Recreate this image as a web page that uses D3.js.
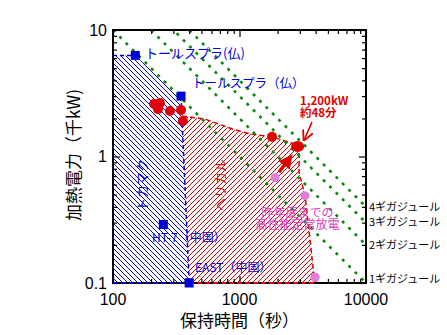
<!DOCTYPE html>
<html lang="ja">
<head>
<meta charset="utf-8">
<title>保持時間と加熱電力</title>
<script src="https://d3js.org/d3.v7.min.js"></script>
<style>
  body { margin: 0; background: #fff; }
  .jp { font-family: "Noto Sans CJK JP", sans-serif; }
  .num { font-family: "Liberation Sans", Arial, sans-serif; }
</style>
<script>
  // data (time in s, power in 千kW)
  const xTicks = [100, 1000, 10000];
  const yTicks = [0.1, 1, 10];
  const energyGJ = [1, 2, 3, 4];

  const tokamakPts = [[150, 6.3], [345, 3.0], [250, 0.29], [400, 0.1]];
  const lhdPts = [[211, 2.6], [223, 2.5], [235, 2.65], [227, 2.37], [282, 2.29], [345, 2.33], [357, 1.91], [1807, 1.43]];
  const lhdRecord = [[2880, 1.2]];
  const pastPts = [[1909, 0.68], [3295, 0.49], [3954, 0.111]];

  const tokamakArea = [[100, 6.3], [150, 6.3], [345, 3.0], [400, 0.1], [100, 0.1]];
  const helicalArea = [[352, 2.09], [530, 1.98], [880, 1.65], [1200, 1.51], [1800, 1.43], [2700, 1.26],
                       [2960, 1.2], [2960, 0.74], [3300, 0.49], [3900, 0.11], [3900, 0.1], [400, 0.1]];
</script>
</head>
<body>
<div id="chart"></div>
<script>
  const width = 447, height = 335;
  const pLeft = 113, pRight = 366, pTop = 30, pBottom = 283;

  const svg = d3.select("#chart").append("svg")
      .attr("width", width).attr("height", height);

  const x = d3.scaleLog().domain([100, 10000]).range([pLeft, pRight]);
  const y = d3.scaleLog().domain([0.1, 10]).range([pBottom, pTop]);

  const blue = "#0000d8", red = "#e00000", green = "#0a8a0a", pink = "#e080d8", pinkText = "#e040c0";

  const defs = svg.append("defs");
  defs.append("clipPath").attr("id", "plot")
      .append("rect").attr("x", pLeft).attr("y", pTop).attr("width", pRight - pLeft).attr("height", pBottom - pTop);

  // pixel hatches: one pixel per row, 5px apart
  function hatch(id, color, back) {
    const p = defs.append("pattern").attr("id", id)
        .attr("patternUnits", "userSpaceOnUse").attr("width", 5).attr("height", 5);
    d3.range(5).forEach(i => {
      p.append("rect").attr("x", back ? i : 4 - i).attr("y", i)
          .attr("width", 1).attr("height", 1).attr("fill", color)
          .attr("shape-rendering", "crispEdges");
    });
  }
  hatch("hBlue", blue, true);
  hatch("hRed", red, false);

  const line = d3.line().x(d => x(d[0])).y(d => y(d[1]));
  const g = svg.append("g").attr("clip-path", "url(#plot)");

  // hatched regions
  g.append("path").attr("d", line(tokamakArea) + "Z").attr("fill", "url(#hBlue)");
  g.append("path").attr("d", line(helicalArea) + "Z").attr("fill", "url(#hRed)");

  // region outlines
  g.append("path").attr("d", line(helicalArea))
      .attr("fill", "none").attr("stroke", red).attr("stroke-width", 1.5).attr("stroke-dasharray", "5,3");
  g.append("path").attr("d", line([[100, 6.3], [150, 6.3]]))
      .attr("fill", "none").attr("stroke", blue).attr("stroke-width", 1.5).attr("stroke-dasharray", "4,3");
  g.append("path").attr("d", line([[345, 3.0], [400, 0.1], [100, 0.1]]))
      .attr("fill", "none").attr("stroke", blue).attr("stroke-width", 1.5).attr("stroke-dasharray", "4,3");

  // energy lines
  energyGJ.forEach(e => {
    g.append("path").attr("d", line([[100, e * 1000 / 100], [10000, e * 1000 / 10000]]))
        .attr("fill", "none").attr("stroke", green).attr("stroke-width", 2.6)
        .attr("stroke-dasharray", "3,6");
  });

  // points
  g.selectAll("rect.tok").data(tokamakPts).enter().append("rect")
      .attr("x", d => x(d[0]) - 4.5).attr("y", d => y(d[1]) - 4.5)
      .attr("width", 9).attr("height", 9).attr("fill", blue);
  g.selectAll("circle.past").data(pastPts).enter().append("circle")
      .attr("cx", d => x(d[0])).attr("cy", d => y(d[1])).attr("r", 4.5).attr("fill", pink);
  g.selectAll("circle.lhd").data(lhdPts).enter().append("circle")
      .attr("cx", d => x(d[0])).attr("cy", d => y(d[1])).attr("r", 5).attr("fill", red);
  g.selectAll("ellipse.rec").data(lhdRecord).enter().append("ellipse")
      .attr("cx", d => x(d[0])).attr("cy", d => y(d[1])).attr("rx", 6.5).attr("ry", 5.5).attr("fill", red);

  // arrows
  defs.append("marker").attr("id", "head").attr("viewBox", "0 0 10 10")
      .attr("refX", 8).attr("refY", 5).attr("markerWidth", 4).attr("markerHeight", 4)
      .attr("orient", "auto")
      .append("path").attr("d", "M0,0 L10,5 L0,10 Z").attr("fill", red);
  svg.append("path").attr("d", line([[2050, 0.75], [2550, 1.0]]))
      .attr("stroke", red).attr("stroke-width", 3.5).attr("marker-end", "url(#head)");
  defs.append("marker").attr("id", "head2").attr("viewBox", "0 0 10 10")
      .attr("refX", 9).attr("refY", 5).attr("markerWidth", 7).attr("markerHeight", 7)
      .attr("orient", "auto")
      .append("path").attr("d", "M0,0 L10,5 L0,10").attr("fill", "none").attr("stroke", red).attr("stroke-width", 1.6);
  svg.append("path").attr("d", line([[3740, 1.87], [3240, 1.35]]))
      .attr("stroke", red).attr("stroke-width", 1.6).attr("marker-end", "url(#head2)");

  // frame and ticks
  const minorX = [], minorY = [];
  [100, 1000].forEach(b => { for (let i = 2; i <= 9; i++) minorX.push(b * i); });
  [0.1, 1].forEach(b => { for (let i = 2; i <= 9; i++) minorY.push(b * i); });

  function axis(gen, scale, vals, size, tr) {
    svg.append("g").attr("transform", tr)
        .call(gen(scale).tickValues(vals).tickSize(-size).tickFormat(""))
        .call(s => s.select(".domain").remove())
        .selectAll("line").attr("stroke", "#000").attr("stroke-width", 1.2);
  }
  axis(d3.axisBottom, x, xTicks, 7, `translate(0,${pBottom})`);
  axis(d3.axisBottom, x, minorX, 4, `translate(0,${pBottom})`);
  axis(d3.axisTop, x, xTicks, 7, `translate(0,${pTop})`);
  axis(d3.axisTop, x, minorX, 4, `translate(0,${pTop})`);
  axis(d3.axisLeft, y, yTicks, 7, `translate(${pLeft},0)`);
  axis(d3.axisLeft, y, minorY, 4, `translate(${pLeft},0)`);
  axis(d3.axisRight, y, yTicks, 7, `translate(${pRight},0)`);
  axis(d3.axisRight, y, minorY, 4, `translate(${pRight},0)`);

  svg.append("rect").attr("x", pLeft).attr("y", pTop).attr("width", pRight - pLeft).attr("height", pBottom - pTop)
      .attr("fill", "none").attr("stroke", "#000").attr("stroke-width", 2);

  // redraw dashed bottom boundaries over the frame
  svg.append("path").attr("d", line([[100, 0.1], [400, 0.1]]))
      .attr("fill", "none").attr("stroke", blue).attr("stroke-width", 2).attr("stroke-dasharray", "5,3");
  svg.append("path").attr("d", line([[400, 0.1], [3900, 0.1]]))
      .attr("fill", "none").attr("stroke", red).attr("stroke-width", 2).attr("stroke-dasharray", "5,3");
  svg.selectAll("rect.east").data(tokamakPts.filter(d => d[1] === 0.1)).enter().append("rect")
      .attr("x", d => x(d[0]) - 4.5).attr("y", d => y(d[1]) - 4.5)
      .attr("width", 9).attr("height", 9).attr("fill", blue);
  svg.selectAll("circle.east").data(pastPts.filter(d => d[1] < 0.12)).enter().append("circle")
      .attr("cx", d => x(d[0])).attr("cy", d => y(d[1])).attr("r", 4.5).attr("fill", pink);

  // tick labels
  svg.selectAll("text.xl").data(xTicks).enter().append("text").attr("class", "num")
      .attr("x", d => x(d)).attr("y", 305).attr("text-anchor", "middle")
      .attr("font-size", 16).text(d => d);
  svg.selectAll("text.yl").data(yTicks).enter().append("text").attr("class", "num")
      .attr("x", pLeft - 6).attr("y", d => y(d) + 5.5).attr("text-anchor", "end")
      .attr("font-size", 16).text(d => d);

  // axis titles
  svg.append("text").attr("class", "jp").attr("x", (pLeft + pRight) / 2).attr("y", 327)
      .attr("text-anchor", "middle").attr("font-size", 17).text("保持時間（秒）");
  svg.append("text").attr("class", "jp").attr("transform", "translate(80,155) rotate(-90)")
      .attr("text-anchor", "middle").attr("font-size", 17).text("加熱電力（千kW)");

  // annotations
  function label(t, p, str, color, size, anchor, weight) {
    return svg.append("text").attr("class", "jp")
        .attr("x", x(t)).attr("y", y(p)).attr("dy", "0.35em")
        .attr("text-anchor", anchor || "start").attr("font-size", size)
        .attr("font-weight", weight || "normal").attr("fill", color).text(str);
  }
  function label2(t, p, lines, gap, color, size, anchor, weight) {
    const txt = svg.append("text").attr("class", "jp")
        .attr("x", x(t)).attr("y", y(p)).attr("dy", "0.35em")
        .attr("text-anchor", anchor).attr("font-size", size)
        .attr("font-weight", weight).attr("fill", color);
    lines.forEach((s, i) => {
      txt.append("tspan").attr("x", x(t)).attr("dy", i === 0 ? "0.35em" : gap).text(s);
    });
  }
  label(179, 6.58, "トールスプラ(仏)", blue, 13);
  label(421, 3.74, "トールスプラ（仏）", blue, 12.5);
  label(203, 0.227, "HT-7（中国）", blue, 12);
  label(445, 0.1315, "EAST（中国）", blue, 12);
  label2(2880, 0.36, ["昨年度までの", "高性能定常放電"], 12.5, pinkText, 12, "middle", "normal");
  label2(3008, 2.74, ["1,200kW", "約48分"], 12, red, 11.5, "start", "bold");

  svg.append("text").attr("class", "jp")
      .attr("transform", `translate(${x(170)},${y(0.596)}) rotate(-90)`)
      .attr("text-anchor", "middle").attr("dy", "0.35em")
      .attr("font-size", 13).attr("fill", blue).text("トカマク");
  svg.append("text").attr("class", "jp")
      .attr("transform", `translate(${x(701)},${y(0.596)}) rotate(-90)`)
      .attr("text-anchor", "middle").attr("dy", "0.35em")
      .attr("font-size", 13).attr("fill", red).text("ヘリカル");

  // energy labels
  svg.selectAll("text.gj").data(energyGJ).enter().append("text").attr("class", "jp")
      .attr("x", pRight + 3).attr("y", d => Math.min(y(d * 1000 / 10000), 279)).attr("dy", "0.35em")
      .attr("font-size", 11).text(d => d + "ギガジュール");
</script>
</body>
</html>
